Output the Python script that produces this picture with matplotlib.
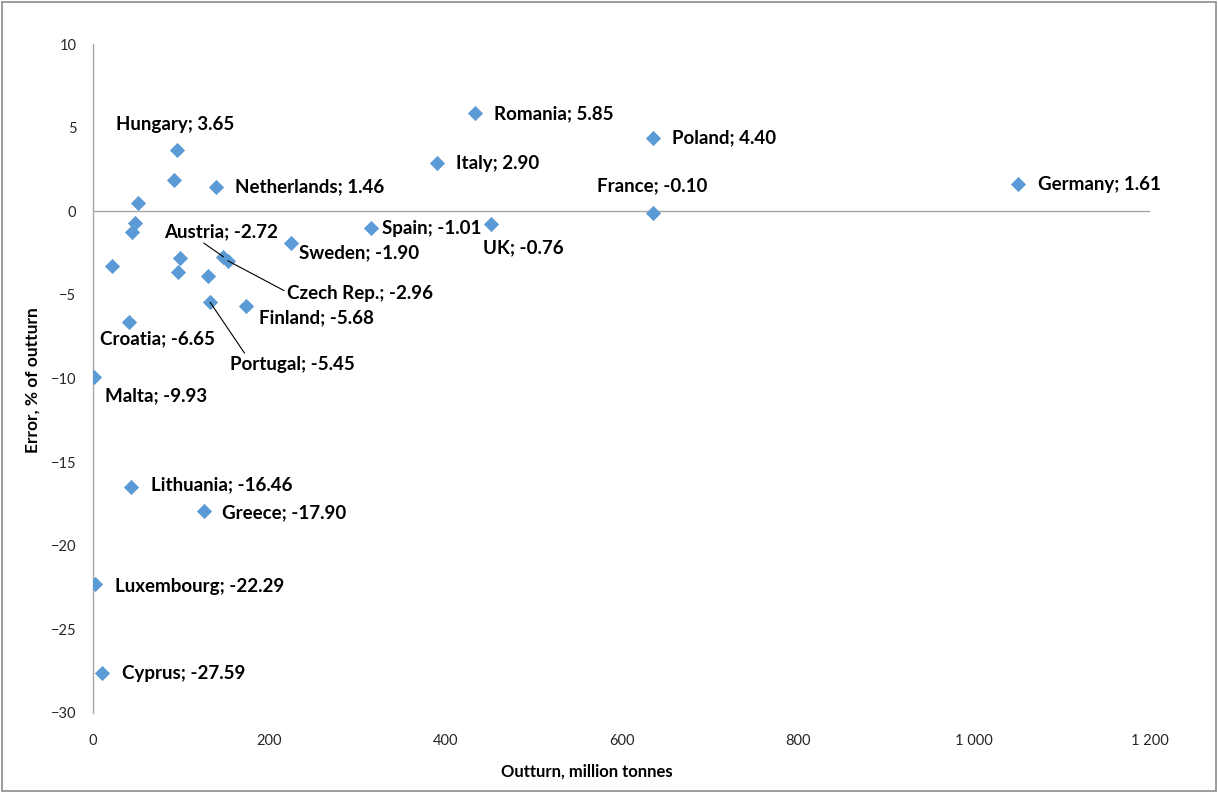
import matplotlib

matplotlib.use("Agg")

import matplotlib.pyplot as plt
from matplotlib.patches import Rectangle

plt.rcParams["font.family"] = ["Lato", "DejaVu Sans"]

# outturn (million tonnes) vs forecast error (% of outturn)
countries = ["Germany", "Romania", "Poland", "Italy", "France", "UK", "Spain", "Sweden",
             "Netherlands", "Hungary", "Austria", "Czech Rep.", "Portugal", "Finland",
             "Croatia", "Malta", "Lithuania", "Greece", "Luxembourg", "Cyprus"]
outturn = [1050, 434, 636, 390, 636, 452, 316, 225,
           140, 95, 148, 153, 133, 174,
           41, 1, 43, 126, 2, 10]
error = [1.61, 5.85, 4.40, 2.90, -0.10, -0.76, -1.01, -1.90,
         1.46, 3.65, -2.72, -2.96, -5.45, -5.68,
         -6.65, -9.93, -16.46, -17.90, -22.29, -27.59]

# unlabelled points
other_outturn = [92, 51, 48, 44, 22, 99, 96, 131]
other_error = [1.85, 0.52, -0.70, -1.23, -3.28, -2.79, -3.62, -3.86]

# label offsets in pixels (dx, dy) and leader-line anchor on the label
label_offsets = {
    "Germany": (20, 0), "Romania": (19, 0), "Poland": (19, 0), "Italy": (19, -1),
    "France": (-56, 27), "UK": (-8, -24), "Spain": (11, 0), "Sweden": (8, -10),
    "Netherlands": (19, 0), "Hungary": (-61, 26), "Austria": (-59, 25),
    "Czech Rep.": (59, -33), "Portugal": (20, -62), "Finland": (13, -12),
    "Croatia": (-29, -16), "Malta": (11, -18), "Lithuania": (20, 2),
    "Greece": (18, -2), "Luxembourg": (20, -2), "Cyprus": (20, -1),
}
leaders = {"Austria": (0.31, 0.0), "Czech Rep.": (0.0, 0.6), "Portugal": (0.13, 1.0)}

blue = "#5b9bd5"
grey = "#a6a6a6"

fig = plt.figure(figsize=(12.18, 7.93), dpi=100)
fig.patches.append(Rectangle((0.002, 0.003), 0.996, 0.994, transform=fig.transFigure,
                             fill=False, edgecolor="#8c8c8c", linewidth=1.2))
ax = fig.add_axes([0.0764, 0.1009, 0.8678, 0.8436])

ax.axhline(0, color=grey, linewidth=1.0, zorder=1)
ax.scatter(outturn + other_outturn, error + other_error, marker="D", s=60,
           color=blue, zorder=3, linewidths=0)

for name, x, y in zip(countries, outturn, error):
    dx, dy = label_offsets[name]
    arrow = None
    if name in leaders:
        arrow = dict(arrowstyle="-", color="black", linewidth=0.8, shrinkA=0, shrinkB=0,
                     relpos=leaders[name])
    ax.annotate(f"{name}; {y:.2f}", (x, y), xytext=(dx, dy), textcoords="offset pixels",
                ha="left", va="center", fontsize=13.5, fontweight="bold",
                arrowprops=arrow, zorder=4)

ax.set_xlim(0, 1200)
ax.set_ylim(-30, 10)
ax.set_xticks(range(0, 1201, 200))
ax.set_xticklabels(["0", "200", "400", "600", "800", "1 000", "1 200"])
ax.set_yticks(range(-30, 11, 5))

for side in ["top", "right", "bottom"]:
    ax.spines[side].set_visible(False)
ax.spines["left"].set_color(grey)
ax.spines["left"].set_linewidth(1.0)
ax.tick_params(axis="both", length=0, labelsize=10.5, colors="#262626")
ax.tick_params(axis="x", pad=15)
ax.tick_params(axis="y", pad=12)

fig.text(0.482, 0.027, "Outturn, million tonnes", ha="center", va="center",
         fontsize=12, fontweight="bold")
fig.text(0.027, 0.521, "Error, % of outturn", ha="center", va="center",
         rotation=90, fontsize=12.5, fontweight="bold")

fig.savefig("out.png", dpi=100)
